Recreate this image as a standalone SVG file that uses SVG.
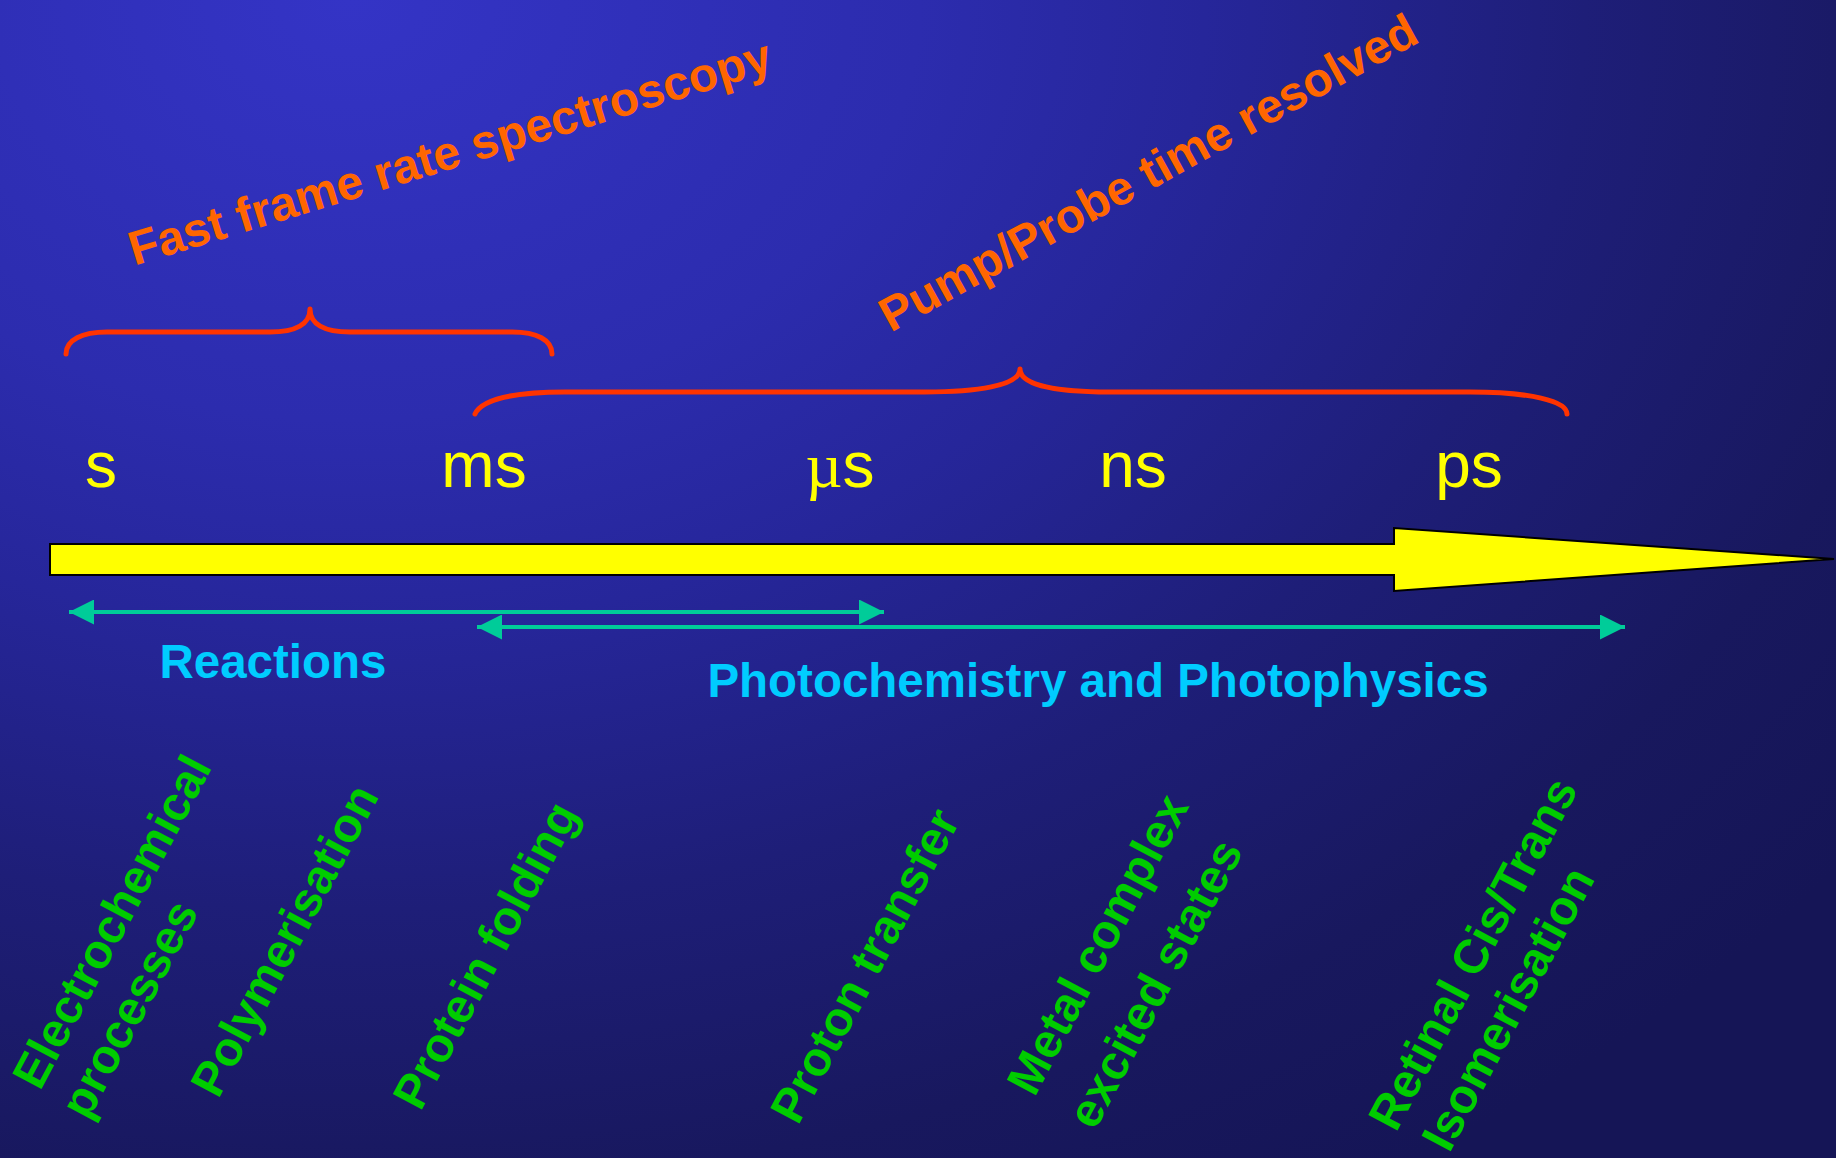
<svg xmlns="http://www.w3.org/2000/svg" width="1836" height="1158" viewBox="0 0 1836 1158">
  <defs>
    <radialGradient id="bg" gradientUnits="userSpaceOnUse" cx="0" cy="0" r="1" gradientTransform="translate(350,0) scale(1900,1400)">
      <stop offset="0" stop-color="#3434c6"/>
      <stop offset="0.3" stop-color="#2c2cae"/>
      <stop offset="0.45" stop-color="#26269a"/>
      <stop offset="0.65" stop-color="#1e1e78"/>
      <stop offset="0.85" stop-color="#18185e"/>
      <stop offset="1" stop-color="#151556"/>
    </radialGradient>
    <marker id="head" markerUnits="userSpaceOnUse" markerWidth="25" markerHeight="25" refX="25" refY="12.5" orient="auto-start-reverse">
      <path d="M0,0 L25,12.5 L0,25 Z" fill="#00cc99"/>
    </marker>
    <style>
      .unit { font-family: "Liberation Sans", Arial, sans-serif; font-size: 64px; fill: #ffff00; text-anchor: middle; }
      .mu { font-family: "Liberation Serif", "Times New Roman", serif; }
      .range { font-family: "Liberation Sans", Arial, sans-serif; font-size: 47.5px; font-weight: bold; fill: #00ccff; text-anchor: middle; }
      .tech { font-family: "Liberation Sans", Arial, sans-serif; font-size: 48px; font-weight: bold; fill: #ff6600; text-anchor: middle; }
      .proc { font-family: "Liberation Sans", Arial, sans-serif; font-size: 48px; font-weight: bold; fill: #00cc00; text-anchor: middle; }
      .brace { fill: none; stroke: #ff3300; stroke-width: 5; stroke-linecap: round; stroke-linejoin: round; }
      .span { fill: none; stroke: #00cc99; stroke-width: 4; marker-start: url(#head); marker-end: url(#head); }
    </style>
  </defs>

  <rect width="1836" height="1158" fill="url(#bg)"/>

  <!-- technique labels and braces -->
  <g id="fast-frame">
    <text class="tech" transform="translate(451,156) rotate(-17)" x="0" y="12.5">Fast frame rate spectroscopy</text>
    <path class="brace" d="M66,354 C66,340 82,332 107,332 L270,332 C296,332 310,324 310,309 C310,324 324,332 350,332 L512,332 C537,332 552,340 552,354"/>
  </g>
  <g id="pump-probe">
    <text class="tech" transform="translate(1150,176) rotate(-28.8)" x="0" y="12.5">Pump/Probe time resolved</text>
    <path class="brace" d="M475,414 C482,399 515,392 565,392 L925,392 C975,392 1020,386 1020,369 C1020,386 1060,392 1110,392 L1470,392 C1530,392 1567,401 1567,414"/>
  </g>

  <!-- time scale units -->
  <g id="units">
    <text class="unit" x="101" y="487">s</text>
    <text class="unit" x="484" y="487">ms</text>
    <text class="unit" x="840" y="487"><tspan class="mu">µ</tspan>s</text>
    <text class="unit" x="1133" y="487">ns</text>
    <text class="unit" x="1469" y="487">ps</text>
  </g>

  <!-- timeline arrow -->
  <g id="timeline">
    <polygon points="50,544 1394,544 1394,528 1834,559 1394,591 1394,575 50,575" fill="#ffff00" stroke="#000000" stroke-width="2" stroke-linejoin="miter"/>
  </g>

  <!-- range connectors -->
  <g id="connectors">
    <line class="span" x1="69" y1="612" x2="884" y2="612"/>
    <line class="span" x1="477" y1="627" x2="1625" y2="627"/>
  </g>

  <g id="reactions">
    <text class="range" x="273" y="678">Reactions</text>
  </g>
  <g id="photochemistry">
    <text class="range" x="1098" y="697">Photochemistry and Photophysics</text>
  </g>

  <!-- processes -->
  <g id="electrochemical">
    <text class="proc" transform="translate(111,921) rotate(-62)" x="0" y="17.5">Electrochemical</text>
    <text class="proc" transform="translate(137,1013) rotate(-62)" x="0" y="7.7">processes</text>
  </g>
  <g id="polymerisation">
    <text class="proc" transform="translate(288,942) rotate(-62)" x="0" y="12.5">Polymerisation</text>
  </g>
  <g id="protein-folding">
    <text class="proc" transform="translate(489,957) rotate(-62)" x="0" y="12.5">Protein folding</text>
  </g>
  <g id="proton-transfer">
    <text class="proc" transform="translate(864,965) rotate(-62)" x="0" y="17.5">Proton transfer</text>
  </g>
  <g id="metal-complex">
    <text class="proc" transform="translate(1101,946) rotate(-62)" x="0" y="12.5">Metal complex</text>
    <text class="proc" transform="translate(1154,983) rotate(-62)" x="0" y="17.5">excited states</text>
  </g>
  <g id="retinal">
    <text class="proc" transform="translate(1472,953) rotate(-62)" x="0" y="17.5">Retinal Cis/Trans</text>
    <text class="proc" transform="translate(1507,1008) rotate(-62)" x="0" y="17.5">Isomerisation</text>
  </g>
</svg>
